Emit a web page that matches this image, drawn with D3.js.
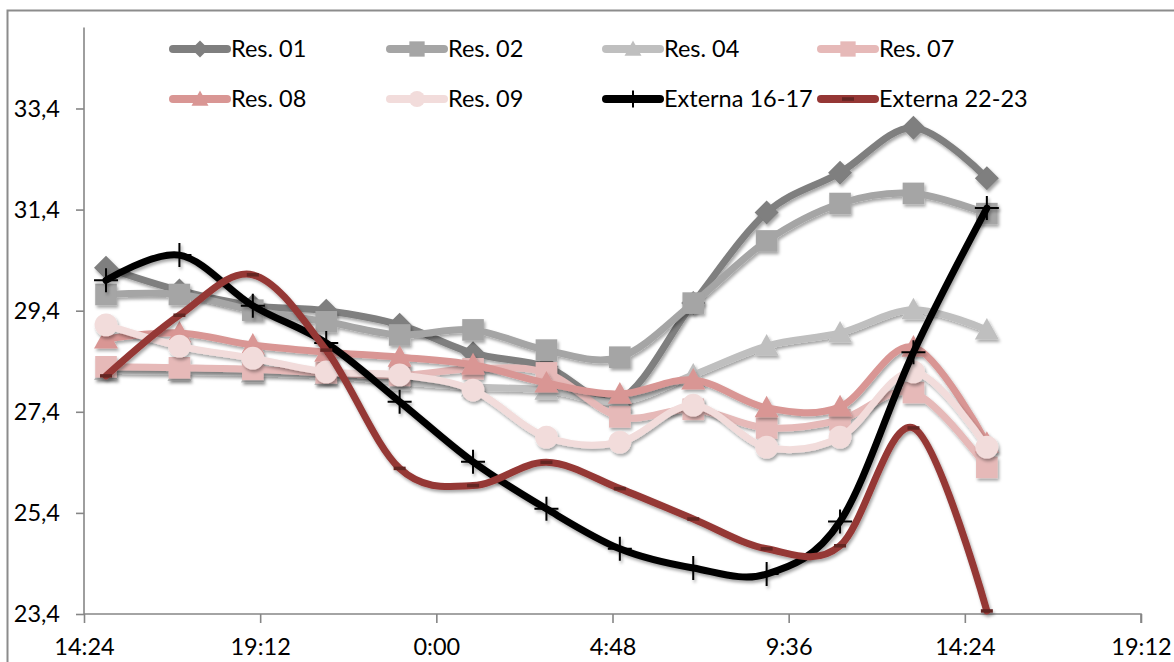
<!DOCTYPE html>
<html>
<head>
<meta charset="utf-8">
<script src="https://cdn.jsdelivr.net/npm/d3@7"></script>
<style>
  html, body { margin: 0; padding: 0; background: #fff; }
  svg { display: block; }
  text { font-family: Lato, "Open Sans", sans-serif; fill: #000; }
</style>
</head>
<body>
<svg id="chart" width="1174" height="662"></svg>
<script>
// ---- data ----
const times = ["2012-01-01T15:00","2012-01-01T17:00","2012-01-01T19:00","2012-01-01T21:00","2012-01-01T23:00",
  "2012-01-02T01:00","2012-01-02T03:00","2012-01-02T05:00","2012-01-02T07:00","2012-01-02T09:00",
  "2012-01-02T11:00","2012-01-02T13:00","2012-01-02T15:00"];
const seriesNames = ["Res. 01","Res. 02","Res. 04","Res. 07","Res. 08","Res. 09","Externa 16-17","Externa 22-23"];
const res01 = [30.25, 29.80, 29.50, 29.40, 29.12, 28.56, 28.29, 27.65, 29.55, 31.34, 32.13, 33.02, 32.02];
const res02 = [29.72, 29.72, 29.41, 29.18, 28.92, 29.02, 28.62, 28.48, 29.55, 30.78, 31.52, 31.72, 31.32];
const res04 = [28.22, 28.20, 28.17, 28.12, 28.00, 27.89, 27.83, 27.60, 28.13, 28.70, 28.96, 29.42, 29.02];
const res07 = [28.29, 28.27, 28.24, 28.17, 28.12, 28.25, 28.17, 27.30, 27.45, 27.08, 27.24, 27.78, 26.30];
const res08 = [28.84, 28.96, 28.72, 28.58, 28.48, 28.33, 27.97, 27.75, 28.03, 27.48, 27.50, 28.68, 26.78];
const res09 = [29.12, 28.70, 28.46, 28.19, 28.13, 27.83, 26.90, 26.80, 27.53, 26.70, 26.90, 28.19, 26.70];
const ext1617 = [30.00, 30.50, 29.50, 28.76, 27.60, 26.41, 25.48, 24.69, 24.31, 24.19, 25.23, 28.58, 31.43];
const ext2223 = [28.11, 29.31, 30.11, 28.62, 26.28, 25.94, 26.40, 25.88, 25.28, 24.69, 24.75, 27.08, 23.46];
const yTicks = [23.4, 25.4, 27.4, 29.4, 31.4, 33.4];
const xTickLabels = ["14:24","19:12","0:00","4:48","9:36","14:24","19:12"];
const xStart = "2012-01-01T14:24", xEnd = "2012-01-02T19:12";

// ---- styles ----
const colors = ["#7f7f7f","#a5a5a5","#bfbfbf","#e6b9b8","#d99694","#f2dcdb","#000000","#953735"];
const markers = ["diamond","square","triangle","square","triangle","circle","plus","dash"];
const allValues = [res01,res02,res04,res07,res08,res09,ext1617,ext2223];
const fontFam = "Lato, 'Open Sans', sans-serif";
const fs = 23.5;

const parse = d3.timeParse("%Y-%m-%dT%H:%M");
const dates = times.map(parse);
const svg = d3.select("#chart");

const defs = svg.append("defs");
const f = defs.append("filter").attr("id","sh").attr("x","-20%").attr("y","-20%").attr("width","140%").attr("height","140%");
f.append("feDropShadow").attr("dx",1.5).attr("dy",2.5).attr("stdDeviation",1.6).attr("flood-color","#000").attr("flood-opacity",0.35);

// chart border
svg.append("rect").attr("x",7.5).attr("y",10.5).attr("width",1180).attr("height",670)
  .attr("fill","none").attr("stroke","#8c8c8c").attr("stroke-width",2);

const x = d3.scaleTime().domain([parse(xStart), parse(xEnd)]).range([84, 1141]);
const y = d3.scaleLinear().domain([23.4, 35.0]).range([614, 27.6]);

const axisColor = "#868686";
// y axis
const yAxis = svg.append("g").attr("transform","translate(84,0)")
  .call(d3.axisLeft(y).tickValues(yTicks).tickSize(8).tickPadding(16).tickFormat(d => d3.format(".1f")(d).replace(".", ",")));
// x axis
const xTickVals = d3.range(7).map(i => new Date(parse(xStart).getTime() + i*4.8*3600*1000));
const xAxis = svg.append("g").attr("transform","translate(0,614)")
  .call(d3.axisBottom(x).tickValues(xTickVals).tickSize(9).tickPadding(15).tickFormat((d,i) => xTickLabels[i]));
[yAxis, xAxis].forEach(g => {
  g.select(".domain").attr("stroke", axisColor).attr("stroke-width", 1.6);
  g.selectAll(".tick line").attr("stroke", axisColor).attr("stroke-width", 1.6);
  g.selectAll(".tick text").attr("font-size", fs).style("font-family", fontFam).attr("fill","#000");
});
yAxis.select(".domain").attr("d","M0,27.6V614");
xAxis.select(".domain").attr("d","M84,0H1141V9");

function drawMarker(g, type, cx, cy, color, s) {
  const h = s/2;
  if (type === "diamond") {
    g.append("path").attr("d",`M${cx},${cy-h}L${cx+h},${cy}L${cx},${cy+h}L${cx-h},${cy}Z`).attr("fill",color);
  } else if (type === "square") {
    g.append("rect").attr("x",cx-h*0.9).attr("y",cy-h*0.9).attr("width",s*0.9).attr("height",s*0.9).attr("fill",color);
  } else if (type === "triangle") {
    g.append("path").attr("d",`M${cx},${cy-h}L${cx+h},${cy+h*0.8}L${cx-h},${cy+h*0.8}Z`).attr("fill",color);
  } else if (type === "circle") {
    g.append("circle").attr("cx",cx).attr("cy",cy).attr("r",h*0.95).attr("fill",color);
  } else if (type === "plus") {
    g.append("path").attr("d",`M${cx-h},${cy}H${cx+h}M${cx},${cy-h}V${cy+h}`).attr("stroke","#000").attr("stroke-width",2).attr("fill","none");
  } else if (type === "dash") {
    g.append("path").attr("d",`M${cx-6},${cy}H${cx+6}`).attr("stroke","#632523").attr("stroke-width",3.5).attr("fill","none");
  }
}

const line = d3.line().x(d => x(d.t)).y(d => y(d.v)).curve(d3.curveCardinal.tension(0));

seriesNames.forEach((name, si) => {
  const data = dates.map((t, i) => ({t, v: allValues[si][i]}));
  const g = svg.append("g").attr("filter","url(#sh)");
  g.append("path").datum(data).attr("d", line).attr("fill","none")
    .attr("stroke", colors[si]).attr("stroke-width", 7).attr("stroke-linejoin","round").attr("stroke-linecap","round");
  data.forEach(d => drawMarker(g, markers[si], x(d.t), y(d.v), colors[si], 24));
});

// legend
const legCols = [170, 387, 603, 818];
const legRows = [49, 99];
seriesNames.forEach((name, si) => {
  const lx = legCols[si % 4], ly = legRows[Math.floor(si / 4)];
  const g = svg.append("g");
  g.append("line").attr("x1", lx+3).attr("x2", lx+57).attr("y1", ly).attr("y2", ly)
    .attr("stroke", colors[si]).attr("stroke-width", 8).attr("stroke-linecap","round");
  drawMarker(g, markers[si], lx+30, ly, colors[si], 17);
  g.append("text").attr("x", lx+61).attr("y", ly).attr("dy","0.35em").attr("font-size", fs).text(name);
});
</script>
</body>
</html>
